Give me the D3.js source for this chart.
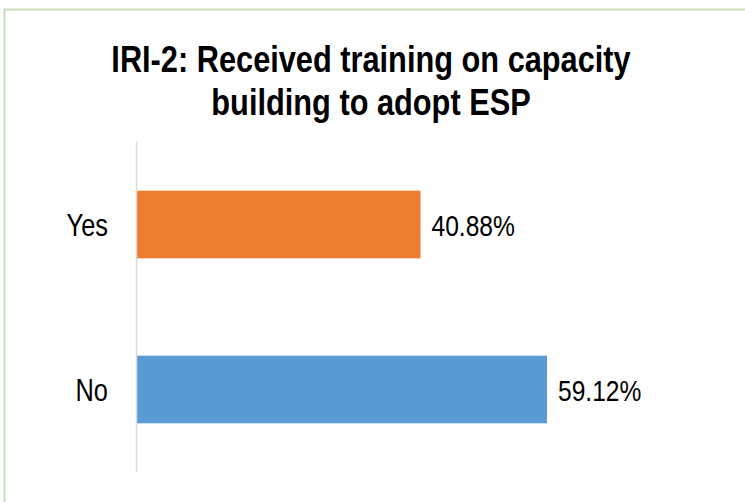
<!DOCTYPE html>
<html>
<head>
<meta charset="utf-8">
<script src="https://cdn.jsdelivr.net/npm/d3@7"></script>
<style>
  body { margin: 0; background: #fff; }
  svg { display: block; }
  text { font-family: "Liberation Sans", Arial, sans-serif; }
</style>
</head>
<body>
<svg id="chart"></svg>
<script>
var categories = ["Yes", "No"];
var values = [40.88, 59.12];
var colors = ["#ed7d31", "#5b9bd5"];
var titleLines = ["IRI-2: Received training on capacity", "building to adopt ESP"];

var width = 745;
var height = 502;
var narrow = 0.82; // fake a narrow face by squeezing

var svg = d3.select("#chart")
    .attr("width", width)
    .attr("height", height);

// outer frame
svg.append("rect")
    .attr("x", 4.5).attr("y", 9.5)
    .attr("width", width + 10).attr("height", height + 10)
    .attr("fill", "none")
    .attr("stroke", "#c5e0b4")
    .attr("stroke-width", 2);

var plot = { left: 137, top: 142, bottom: 472 };

var x = d3.scaleLinear()
    .domain([0, 70])
    .range([plot.left, plot.left + 70 * 6.935]);

var y = d3.scaleBand()
    .domain(categories)
    .range([plot.top, plot.bottom])
    .paddingInner(0.59)
    .paddingOuter(0.295);

function squeezed(sel, px, py) {
    return sel.append("g")
        .attr("transform", "translate(" + px + "," + py + ") scale(" + narrow + ",1)")
        .append("text");
}

titleLines.forEach(function (line, i) {
    squeezed(svg, 371, 72 + i * 43)
        .attr("text-anchor", "middle")
        .attr("font-size", 37.5)
        .attr("font-weight", "bold")
        .attr("fill", "#000")
        .text(line);
});

svg.selectAll("rect.bar")
    .data(values).enter().append("rect")
    .attr("class", "bar")
    .attr("x", x(0))
    .attr("y", function (d, i) { return y(categories[i]); })
    .attr("width", function (d) { return x(d) - x(0); })
    .attr("height", y.bandwidth())
    .attr("fill", function (d, i) { return colors[i]; });

// category axis
svg.append("line")
    .attr("x1", plot.left - 0.5).attr("x2", plot.left - 0.5)
    .attr("y1", plot.top).attr("y2", plot.bottom)
    .attr("stroke", "#d9d9d9")
    .attr("stroke-width", 1.5);

categories.forEach(function (c) {
    squeezed(svg, 108, y(c) + y.bandwidth() / 2)
        .attr("dy", "0.36em")
        .attr("text-anchor", "end")
        .attr("font-size", 31)
        .attr("fill", "#000")
        .text(c);
});

values.forEach(function (v, i) {
    squeezed(svg, x(v) + 11, y(categories[i]) + y.bandwidth() / 2)
        .attr("dy", "0.38em")
        .attr("font-size", 30)
        .attr("fill", "#000")
        .text(v.toFixed(2) + "%");
});
</script>
</body>
</html>
